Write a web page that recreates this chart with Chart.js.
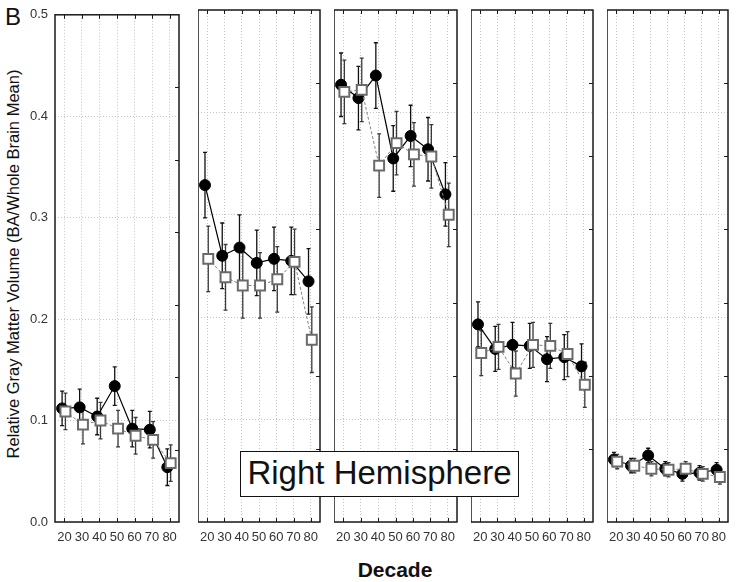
<!DOCTYPE html>
<html><head><meta charset="utf-8">
<script src="https://cdn.jsdelivr.net/npm/chart.js@4"></script>
<style>
html,body{margin:0;padding:0;background:#fff;}
#wrap{position:relative;width:738px;height:582px;overflow:hidden;background:#fff;font-family:"Liberation Sans",Arial,sans-serif;}
#wrap canvas{position:absolute;top:0;}
.lbl{position:absolute;white-space:nowrap;color:#111;line-height:1;}
#letter{left:5px;top:5px;font-size:24px;}
#ytitle{left:13px;top:264px;font-size:16.5px;transform:translate(-50%,-50%) rotate(-90deg);}
#xtitle{left:395px;top:559px;font-size:21px;font-weight:bold;transform:translateX(-50%);}
#hemi{left:240px;top:451px;width:279px;height:46px;box-sizing:border-box;border:1.5px solid #111;background:#fff;font-size:33px;text-align:center;padding-top:4px;z-index:5;}
</style></head><body>
<div id="wrap">
  <div class="lbl" id="letter">B</div>
  <div class="lbl" id="ytitle">Relative Gray Matter Volume (BA/Whole Brain Mean)</div>
  <div class="lbl" id="xtitle">Decade</div>
  <div class="lbl" id="hemi">Right Hemisphere</div>
</div>
<script>
// ---- data ----
const DECADES = [20, 30, 40, 50, 60, 70, 80];
const Y_MIN = 0, Y_MAX = 0.5, Y_STEP = 0.1;

// filled circles (solid line)
const filledP1 = [0.112, 0.113, 0.104, 0.134, 0.092, 0.091, 0.054];
const filledP2 = [0.329, 0.260, 0.268, 0.253, 0.257, 0.255, 0.235];
const filledP3 = [0.427, 0.414, 0.436, 0.355, 0.377, 0.364, 0.320];
const filledP4 = [0.193, 0.169, 0.173, 0.172, 0.159, 0.161, 0.152];
const filledP5 = [0.061, 0.055, 0.065, 0.052, 0.047, 0.048, 0.051];
// open squares (dashed line)
const openP1 = [0.109, 0.096, 0.100, 0.092, 0.085, 0.081, 0.058];
const openP2 = [0.257, 0.239, 0.231, 0.231, 0.237, 0.254, 0.178];
const openP3 = [0.420, 0.422, 0.348, 0.370, 0.359, 0.357, 0.300];
const openP4 = [0.165, 0.171, 0.145, 0.173, 0.172, 0.164, 0.134];
const openP5 = [0.059, 0.055, 0.052, 0.051, 0.052, 0.047, 0.044];
// error half-widths
const filledErrP1 = [0.017, 0.018, 0.018, 0.019, 0.018, 0.018, 0.018];
const filledErrP2 = [0.032, 0.032, 0.032, 0.032, 0.031, 0.033, 0.032];
const filledErrP3 = [0.031, 0.031, 0.032, 0.032, 0.030, 0.031, 0.031];
const filledErrP4 = [0.022, 0.022, 0.022, 0.022, 0.022, 0.022, 0.022];
const filledErrP5 = [0.007, 0.007, 0.007, 0.007, 0.007, 0.007, 0.007];
const openErrP1 = [0.018, 0.019, 0.018, 0.018, 0.018, 0.018, 0.018];
const openErrP2 = [0.032, 0.032, 0.032, 0.032, 0.032, 0.032, 0.032];
const openErrP3 = [0.031, 0.031, 0.031, 0.031, 0.031, 0.031, 0.031];
const openErrP4 = [0.022, 0.022, 0.022, 0.022, 0.022, 0.022, 0.022];
const openErrP5 = [0.007, 0.007, 0.007, 0.007, 0.007, 0.007, 0.007];

const FILLED = [filledP1, filledP2, filledP3, filledP4, filledP5];
const OPEN = [openP1, openP2, openP3, openP4, openP5];
const FILLED_ERR = [filledErrP1, filledErrP2, filledErrP3, filledErrP4, filledErrP5];
const OPEN_ERR = [openErrP1, openErrP2, openErrP3, openErrP4, openErrP5];

// ---- layout / style ----
const FRAMES = [
  {left: 55, right: 179},
  {left: 198, right: 320},
  {left: 334, right: 457},
  {left: 471, right: 593},
  {left: 607, right: 728}
];
const X_MIN = 14.65, X_MAX = 85.35;
const FILLED_SHIFT = -1.3, OPEN_SHIFT = 0.6;
const RIGHT_DIVS = 7;
const FONT = '"Liberation Sans", Arial, sans-serif';

const errorBars = {
  id: 'errorBars',
  beforeDatasetsDraw(chart) {
    const {ctx, scales: {x, y}} = chart;
    chart.data.datasets.forEach(ds => {
      ctx.save();
      ctx.strokeStyle = ds.errColor;
      ctx.lineWidth = 1.3;
      ctx.beginPath();
      ds.data.forEach((p, k) => {
        const e = ds.err[k];
        const px = x.getPixelForValue(p.x);
        const y1 = y.getPixelForValue(p.y + e), y2 = y.getPixelForValue(p.y - e);
        ctx.moveTo(px, y1); ctx.lineTo(px, y2);
        ctx.moveTo(px - 2, y1); ctx.lineTo(px + 2, y1);
        ctx.moveTo(px - 2, y2); ctx.lineTo(px + 2, y2);
      });
      ctx.stroke();
      ctx.restore();
    });
  }
};

const frame = {
  id: 'frame',
  afterDraw(chart) {
    const {ctx, chartArea: a, scales: {x, y}} = chart;
    ctx.save();
    ctx.strokeStyle = '#1a1a1a';
    ctx.lineWidth = 1.5;
    ctx.strokeRect(a.left, a.top, a.right - a.left, a.bottom - a.top);
    ctx.lineWidth = 1;
    ctx.beginPath();
    x.ticks.forEach(t => {
      const px = Math.round(x.getPixelForValue(t.value)) + 0.5;
      ctx.moveTo(px, a.top); ctx.lineTo(px, a.top + 4);
      ctx.moveTo(px, a.bottom); ctx.lineTo(px, a.bottom - 4);
    });
    for (let k = 1; k < RIGHT_DIVS; k++) {
      const py = Math.round(y.getPixelForValue(Y_MIN + (Y_MAX - Y_MIN) * k / RIGHT_DIVS)) + 0.5;
      ctx.moveTo(a.right, py); ctx.lineTo(a.right - 4, py);
    }
    ctx.stroke();
    ctx.restore();
  }
};

const wrap = document.getElementById('wrap');
const hemi = document.getElementById('hemi');

FRAMES.forEach((f, i) => {
  const first = i === 0;
  const left = first ? 0 : f.left;
  const width = f.right - left + 2;
  const canvas = document.createElement('canvas');
  canvas.width = width; canvas.height = 582;
  canvas.style.left = left + 'px';
  canvas.style.width = width + 'px';
  canvas.style.height = '582px';
  wrap.insertBefore(canvas, hemi);

  new Chart(canvas, {
    type: 'line',
    data: {
      datasets: [
        {
          label: 'open',
          data: DECADES.map((d, k) => ({x: d + OPEN_SHIFT, y: OPEN[i][k]})),
          err: OPEN_ERR[i], errColor: '#3a3a3a',
          borderColor: '#808080', borderDash: [3, 2], borderWidth: 1,
          pointStyle: 'rect', pointRadius: 7, pointBackgroundColor: '#fff',
          pointBorderColor: '#6a6a6a', pointBorderWidth: 2,
          tension: 0, order: 0
        },
        {
          label: 'filled',
          data: DECADES.map((d, k) => ({x: d + FILLED_SHIFT, y: FILLED[i][k]})),
          err: FILLED_ERR[i], errColor: '#111',
          borderColor: '#000', borderWidth: 1.2,
          pointStyle: 'circle', pointRadius: 5.5, pointBackgroundColor: '#000',
          pointBorderColor: '#000', pointBorderWidth: 1,
          tension: 0, order: 1
        }
      ]
    },
    options: {
      responsive: false,
      animation: false,
      layout: {autoPadding: false, padding: {top: 10, right: 2, left: 0, bottom: 0}},
      plugins: {legend: {display: false}, tooltip: {enabled: false}},
      scales: {
        x: {
          type: 'linear', min: X_MIN, max: X_MAX,
          afterBuildTicks: s => { s.ticks = DECADES.map(v => ({value: v})); },
          afterFit: s => { s.height = 60; },
          grid: {color: '#c4c4c4', lineWidth: 1, drawTicks: true, tickLength: 8, tickColor: 'rgba(0,0,0,0)'},
          border: {display: false, dash: [1, 2]},
          ticks: {font: {family: FONT, size: 13}, color: '#333', padding: 0, maxRotation: 0, autoSkip: false}
        },
        y: {
          type: 'linear', min: Y_MIN, max: Y_MAX,
          afterFit: s => { s.width = first ? 55 : 0; },
          grid: {color: '#c4c4c4', lineWidth: 1, drawTicks: false},
          border: {display: false, dash: [1, 2]},
          ticks: {
            display: first, stepSize: Y_STEP,
            font: {family: FONT, size: 13}, color: '#333', padding: 7,
            callback: v => v.toFixed(1)
          }
        }
      }
    },
    plugins: [errorBars, frame]
  });
});
</script>
</body></html>
